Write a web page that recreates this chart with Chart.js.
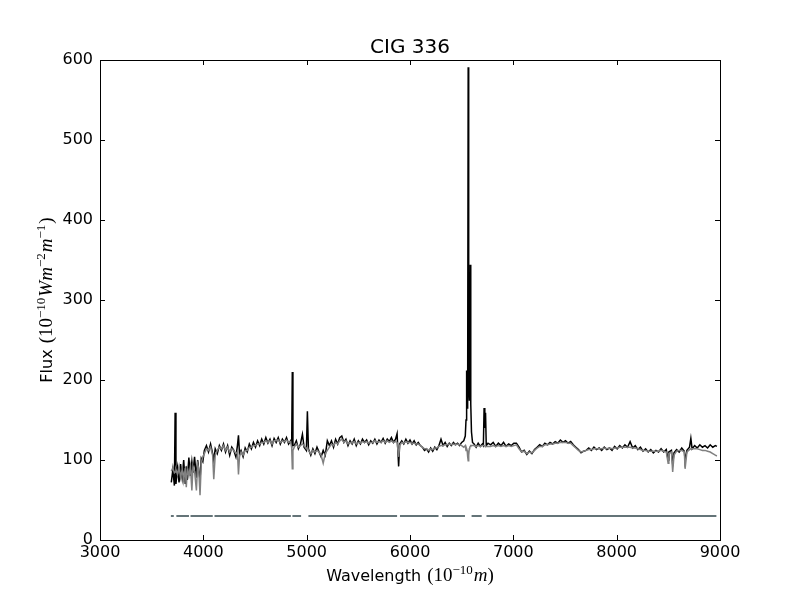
<!DOCTYPE html>
<html>
<head>
<meta charset="utf-8">
<script src="https://cdn.jsdelivr.net/npm/chart.js@4.4.1/dist/chart.umd.min.js"></script>
<style>
  body { margin: 0; background: #fff; }
  canvas { display: block; }
</style>
</head>
<body>
<canvas id="spectrum" width="800" height="600"></canvas>
<script>
// wavelengths (Angstrom) shared by the observed and the model spectrum
const wave = [
  3690, 3705, 3720, 3727, 3735, 3750, 3765, 3780, 3795, 3810, 3825, 3835, 3845, 3860, 3875, 3889, 3900, 3915, 3933, 3945, 3955, 3968, 3980, 3995,
  4010, 4030, 4050, 4070, 4090, 4101, 4115, 4135, 4155, 4175, 4195, 4215, 4235, 4255, 4275, 4295, 4315, 4330, 4340, 4350,
  4365, 4385, 4405, 4425, 4445, 4465, 4485, 4505, 4525, 4545, 4565, 4585, 4605, 4625, 4645, 4665, 4685, 4705, 4725, 4745, 4765, 4785, 4805, 4825, 4845,
  4855, 4861, 4867, 4880, 4900, 4920, 4940, 4959, 4975, 4997, 5007, 5017, 5040, 5060, 5080, 5100, 5120, 5140, 5160, 5180, 5200,
  5220, 5240, 5260, 5280, 5300, 5320, 5340, 5360, 5380, 5400, 5420, 5440, 5460, 5480, 5500, 5520, 5540, 5560, 5580, 5600,
  5620, 5640, 5660, 5680, 5700, 5720, 5740, 5760, 5780, 5800, 5820, 5840, 5860, 5875, 5890, 5900,
  5920, 5940, 5960, 5980, 6000, 6020, 6040, 6060, 6080, 6100, 6120, 6140, 6160, 6180, 6200, 6220, 6240, 6260, 6280, 6300,
  6320, 6340, 6360, 6380, 6400, 6420, 6440, 6460, 6480, 6500, 6520,
  6535, 6542, 6548, 6553, 6558, 6563, 6568, 6574, 6578, 6583, 6588, 6595, 6605,
  6620, 6640, 6660, 6680, 6700, 6710, 6717, 6724, 6731, 6738, 6755,
  6780, 6805, 6830, 6855, 6880, 6905, 6930, 6955, 6980, 7005,
  7030, 7055, 7080, 7105, 7130, 7155, 7180, 7205, 7230, 7255,
  7280, 7305, 7330, 7355, 7380, 7405, 7430, 7455, 7480, 7505,
  7530, 7555, 7580, 7605, 7630, 7655, 7680, 7705, 7730, 7755,
  7780, 7805, 7830, 7855, 7880, 7905, 7930, 7955, 7980, 8005,
  8030, 8055, 8080, 8105, 8130, 8155, 8180, 8205, 8230, 8255,
  8280, 8305, 8330, 8355, 8380, 8405, 8430, 8455, 8480, 8498,
  8505, 8530, 8542, 8555, 8580, 8605, 8630, 8655, 8662, 8680,
  8705, 8718, 8730, 8755, 8780, 8805, 8830, 8855, 8880, 8905,
  8930, 8955, 8970
];

// observed flux (black)
const obsFlux = [
  72, 88, 68, 159, 70, 90, 72, 95, 78, 100, 70, 92, 75, 103, 80, 98, 84, 104, 78, 100, 88, 75, 102, 98,
  112, 118, 110, 120, 108, 100, 114, 108, 118, 112, 120, 110, 118, 106, 116, 112, 104, 118, 131, 108,
  112, 104, 115, 110, 120, 114, 122, 116, 124, 118, 126, 120, 128, 121, 126, 118, 127, 122, 128, 120, 126, 122, 128, 120, 124,
  120, 210, 118, 118, 124, 114, 120, 132, 116, 112, 161, 114, 106, 114, 108, 116, 110, 104, 112, 106, 124,
  118, 124, 116, 126, 120, 128, 130, 122, 126, 118, 124, 120, 126, 118, 124, 120, 126, 122, 125, 119,
  124, 121, 126, 120, 125, 122, 127, 121, 126, 123, 128, 122, 126, 133, 92, 120,
  124, 120, 126, 121, 125, 120, 124, 119, 122, 118, 116, 112, 114, 110, 115, 111, 116, 113, 118, 126,
  118, 122, 117, 121, 118, 122, 119, 121, 118, 122, 124,
  130, 150, 212, 165, 175, 591, 190, 175, 180, 344, 170, 135, 122,
  120, 116, 121, 117, 120, 118, 165, 140, 159, 118, 121,
  119, 122, 117, 121, 118, 122, 117, 120, 118, 121,
  121, 116, 110, 112, 107, 111, 108, 113, 116, 119,
  117, 121, 119, 122, 120, 123, 121, 125, 122, 124,
  121, 123, 119, 116, 113, 109, 111, 112, 115, 112,
  116, 113, 115, 112, 116, 113, 115, 112, 117, 114,
  118, 115, 119, 116, 123, 115, 118, 113, 116, 111,
  114, 110, 113, 109, 112, 110, 114, 110, 113, 100,
  110, 112, 95, 109, 113, 110, 115, 111, 98, 112,
  116, 127, 114, 118, 115, 119, 116, 118, 115, 119,
  116, 118, 117
];

// synthetic / model flux (gray)
const modelFlux = [
  86, 90, 84, 85, 88, 82, 92, 78, 88, 74, 90, 66, 88, 80, 92, 62, 92, 86, 62, 95, 90, 56, 96, 104,
  108, 114, 112, 116, 106, 76, 106, 112, 116, 114, 118, 112, 116, 110, 114, 112, 108, 110, 82, 104,
  110, 106, 112, 112, 116, 116, 118, 118, 120, 120, 122, 122, 124, 122, 124, 120, 124, 124, 125, 122, 124, 123, 125, 122, 123,
  115, 89, 112, 116, 120, 116, 118, 120, 118, 114, 116, 112, 108, 112, 110, 112, 110, 106, 96, 108, 112,
  116, 120, 118, 122, 120, 124, 126, 122, 124, 120, 122, 121, 123, 120, 122, 121, 123, 122, 123, 121,
  122, 122, 124, 122, 123, 122, 124, 122, 124, 122, 124, 122, 123, 122, 104, 118,
  122, 121, 123, 122, 122, 121, 121, 120, 120, 118, 116, 114, 114, 112, 114, 113, 115, 115, 117, 118,
  118, 119, 119, 120, 119, 120, 119, 120, 119, 118, 116,
  118, 112, 114, 112, 104, 99, 106, 114, 116, 117, 118, 118, 118,
  118, 117, 118, 117, 118, 118, 118, 118, 117, 117, 117,
  117, 118, 117, 118, 117, 118, 117, 118, 117, 118,
  119, 114, 110, 111, 108, 110, 109, 112, 115, 117,
  117, 119, 119, 120, 120, 121, 121, 122, 122, 122,
  121, 121, 118, 115, 112, 110, 111, 112, 113, 113,
  114, 114, 114, 114, 115, 114, 115, 114, 115, 115,
  116, 116, 116, 116, 116, 115, 115, 114, 113, 112,
  112, 111, 111, 111, 111, 111, 112, 111, 110, 96,
  108, 110, 85, 106, 111, 112, 112, 110, 89, 110,
  113, 114, 114, 114, 114, 113, 112, 112, 111, 110,
  108, 106, 105
];

// wavelength ranges used in the fit (drawn as the flat line near the bottom)
const maskStart = [3686, 3739, 3876, 4108, 4862, 5017, 5903, 6311, 6596, 6740];
const maskEnd   = [3714, 3861, 4091, 4847, 4946, 5875, 6276, 6532, 6694, 8965];
const maskLevel = 30;

const xTicks = [3000, 4000, 5000, 6000, 7000, 8000, 9000];
const yTicks = [0, 100, 200, 300, 400, 500, 600];

if (wave.length !== obsFlux.length || wave.length !== modelFlux.length) {
  throw new Error('length mismatch ' + wave.length + ' ' + obsFlux.length + ' ' + modelFlux.length);
}

const obsPoints = wave.map((w, i) => ({ x: w, y: obsFlux[i] }));
const modelPoints = wave.map((w, i) => ({ x: w, y: modelFlux[i] }));
const maskPoints = [];
maskStart.forEach((s, i) => {
  maskPoints.push({ x: s, y: maskLevel }, { x: maskEnd[i], y: maskLevel });
  if (i < maskStart.length - 1) maskPoints.push({ x: (maskEnd[i] + maskStart[i + 1]) / 2, y: null });
});

const SANS = '"DejaVu Sans", sans-serif';
const SERIF = '"Liberation Serif", "DejaVu Serif", serif';

// draw a run of text pieces (mixed fonts, superscripts) centred on cx
function drawPieces(ctx, pieces, cx, y) {
  let total = 0;
  pieces.forEach(p => { ctx.font = p.font; total += ctx.measureText(p.t).width + (p.gap || 0); });
  let x = cx - total / 2;
  pieces.forEach(p => {
    ctx.font = p.font;
    ctx.fillText(p.t, x, y - (p.up || 0));
    x += ctx.measureText(p.t).width + (p.gap || 0);
  });
}

const frame = {
  id: 'frame',
  afterDatasetsDraw(chart) {
    const { ctx, chartArea: a, scales } = chart;
    ctx.save();
    ctx.strokeStyle = '#000';
    ctx.lineWidth = 1;
    ctx.strokeRect(a.left + 0.5, a.top + 0.5, a.right - a.left, a.bottom - a.top);
    const tl = 5;
    ctx.beginPath();
    xTicks.forEach(v => {
      const px = Math.round(scales.x.getPixelForValue(v)) + 0.5;
      ctx.moveTo(px, a.bottom); ctx.lineTo(px, a.bottom - tl);
      ctx.moveTo(px, a.top); ctx.lineTo(px, a.top + tl);
    });
    yTicks.forEach(v => {
      const py = Math.round(scales.y.getPixelForValue(v)) + 0.5;
      ctx.moveTo(a.left, py); ctx.lineTo(a.left + tl, py);
      ctx.moveTo(a.right, py); ctx.lineTo(a.right - tl, py);
    });
    ctx.stroke();
    ctx.restore();
  },
  afterDraw(chart) {
    const { ctx, chartArea: a } = chart;
    const cx = (a.left + a.right) / 2;
    ctx.save();
    ctx.fillStyle = '#000';
    ctx.textBaseline = 'alphabetic';
    ctx.textAlign = 'left';
    drawPieces(ctx, [{ t: 'CIG 336', font: '20px ' + SANS }], cx, 53);

    const lab = '16px ' + SANS;
    const big = '19px ' + SERIF, bigIt = 'italic 19px ' + SERIF, sup = '13px ' + SERIF;
    drawPieces(ctx, [
      { t: 'Wavelength ', font: lab, gap: 1 },
      { t: '(10', font: big },
      { t: '\u221210', font: sup, up: 7, gap: 1 },
      { t: 'm', font: bigIt },
      { t: ')', font: big }
    ], cx, 581);

    ctx.translate(52, (a.top + a.bottom) / 2);
    ctx.rotate(-Math.PI / 2);
    drawPieces(ctx, [
      { t: 'Flux ', font: lab, gap: 1 },
      { t: '(10', font: big },
      { t: '\u221210', font: sup, up: 7, gap: 1 },
      { t: 'Wm', font: bigIt },
      { t: '\u22122', font: sup, up: 7, gap: 1 },
      { t: 'm', font: bigIt },
      { t: '\u22121', font: sup, up: 7, gap: 1 },
      { t: ')', font: big }
    ], 0, 0);
    ctx.restore();
  }
};

const tickFont = { family: 'DejaVu Sans', size: 16 };

new Chart(document.getElementById('spectrum').getContext('2d'), {
  type: 'line',
  data: {
    datasets: [
      { label: 'model', data: modelPoints, borderColor: '#808080', borderWidth: 1.5, order: 0 },
      { label: 'observed', data: obsPoints, borderColor: '#000000', borderWidth: 1.5, order: 1 },
      { label: 'mask', data: maskPoints, borderColor: '#647478', borderWidth: 2, spanGaps: false, order: 2 }
    ]
  },
  options: {
    responsive: false,
    animation: false,
    devicePixelRatio: 1,
    elements: { point: { radius: 0 }, line: { tension: 0 } },
    layout: { padding: { left: 0, right: 80, top: 60, bottom: 0 } },
    plugins: { legend: { display: false }, title: { display: false }, tooltip: { enabled: false } },
    scales: {
      x: {
        type: 'linear',
        min: 3000,
        max: 9000,
        afterFit(scale) { scale.height = 60; },
        afterBuildTicks(scale) { scale.ticks = xTicks.map(v => ({ value: v })); },
        ticks: { color: '#000', font: tickFont, padding: 3, maxRotation: 0, callback: v => String(v) },
        grid: { display: false, drawTicks: false },
        border: { display: false }
      },
      y: {
        type: 'linear',
        min: 0,
        max: 600,
        afterFit(scale) { scale.width = 100; },
        afterBuildTicks(scale) { scale.ticks = yTicks.map(v => ({ value: v })); },
        ticks: { color: '#000', font: tickFont, padding: 7, callback: v => String(v) },
        grid: { display: false, drawTicks: false },
        border: { display: false }
      }
    }
  },
  plugins: [frame]
});
</script>
</body>
</html>
